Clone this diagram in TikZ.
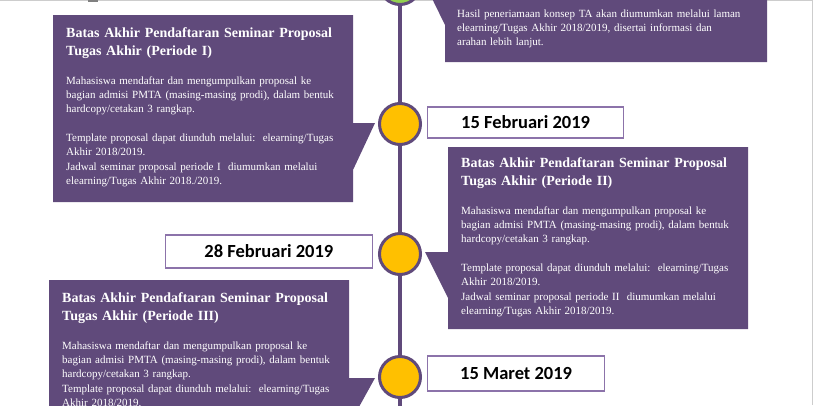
\documentclass[tikz,border=0pt]{standalone}
\usepackage{fontspec}
\setmainfont{Liberation Serif}
\newfontfamily\datefont{Carlito}
\usepackage{xcolor}
\usetikzlibrary{positioning}
\definecolor{tlpurple}{RGB}{96,74,123}
\definecolor{tlframe}{RGB}{140,115,170}
\definecolor{tlgold}{RGB}{255,192,0}
\definecolor{tlgreen}{RGB}{146,208,80}
\definecolor{pagegray}{RGB}{205,205,205}

\begin{document}
\begin{tikzpicture}[
  x=1pt, y=-1pt,
  bubble/.style={fill=tlpurple},
  dot/.style={circle, draw=tlpurple, line width=3pt, fill=tlgold, minimum size=41pt, inner sep=0pt},
  timeline/.style={draw=tlpurple, line width=4pt},
  datebox/.style={draw=tlframe, line width=1.2pt, fill=white, inner sep=0pt, font=\datefont\bfseries\fontsize{18.5}{22}\selectfont},
  heading/.style={text=white, text width=285pt, align=left, inner sep=0pt, font=\bfseries\fontsize{14}{18}\selectfont},
  info/.style={text=white, text width=285pt, align=left, inner sep=0pt, font=\fontsize{11}{14.3}\selectfont}
]
\useasboundingbox (0,0) rectangle (814,405);
\clip (0,0) rectangle (814,405);

% page edges of the screenshot
\draw[pagegray, line width=1pt] (0,0.5) -- (812.5,0.5) -- (812.5,405);
\fill[gray] (88,0) rectangle (98,1.5);

% callout boxes
\fill[bubble] (445,-60) -- (767,-60) -- (767,62) -- (445,62) -- (445,25) -- (422,-22) -- (445,-22) -- cycle;
\fill[bubble] (53,15) -- (353,15) -- (353,123) -- (375,123) -- (353,170) -- (353,202) -- (53,202) -- cycle;
\fill[bubble] (448,147) -- (748,147) -- (748,329) -- (448,329) -- (448,298) -- (425,252) -- (448,252) -- cycle;
\fill[bubble] (49,280) -- (349,280) -- (349,378) -- (375,378) -- (349,425) -- (349,440) -- (49,440) -- cycle;

% timeline dots
\node[dot, fill=tlgreen] (start) at (400,-16) {};
\node[dot] (feb15) at (400,124) {};
\node[dot] (feb28) at (400,254) {};
\node[dot] (mar15) at (400,377) {};
\coordinate (tlend) at (400,420);
\draw[timeline] (start) -- (feb15) -- (feb28) -- (mar15) -- (tlend);

% dates
\node[datebox, minimum width=196pt, minimum height=31pt, right=5pt of feb15, yshift=1.5pt] (date1) {15 Februari 2019};
\node[datebox, minimum width=207pt, minimum height=33pt, left=5pt of feb28, yshift=2.5pt] (date2) {28 Februari 2019};
\node[datebox, minimum width=177pt, minimum height=35pt, right=5pt of mar15, yshift=3.5pt] (date3) {15 Maret 2019};

% texts
\node[info, anchor=north west] (result) at (457,9.5) {Hasil peneriamaan konsep TA akan diumumkan melalui laman\\
elearning/Tugas Akhir 2018/2019, disertai informasi dan\\
arahan lebih lanjut.};

\node[heading, anchor=north west] (title1) at (66,27) {Batas Akhir Pendaftaran Seminar Proposal\\Tugas Akhir (Periode I)};
\node[info, below=18pt of title1] (body1) {Mahasiswa mendaftar dan mengumpulkan proposal ke\\
bagian admisi PMTA (masing-masing prodi), dalam bentuk\\
hardcopy/cetakan 3 rangkap.\\[14.3pt]
Template proposal dapat diunduh melalui:\ \ elearning/Tugas\\
Akhir 2018/2019.\\
Jadwal seminar proposal periode I\ \ diumumkan melalui\\
elearning/Tugas Akhir 2018./2019.};

\node[heading, anchor=north west] (title2) at (461,157) {Batas Akhir Pendaftaran Seminar Proposal\\Tugas Akhir (Periode II)};
\node[info, below=18pt of title2] (body2) {Mahasiswa mendaftar dan mengumpulkan proposal ke\\
bagian admisi PMTA (masing-masing prodi), dalam bentuk\\
hardcopy/cetakan 3 rangkap.\\[14.3pt]
Template proposal dapat diunduh melalui:\ \ elearning/Tugas\\
Akhir 2018/2019.\\
Jadwal seminar proposal periode II\ \ diumumkan melalui\\
elearning/Tugas Akhir 2018/2019.};

\node[heading, anchor=north west] (title3) at (62,292) {Batas Akhir Pendaftaran Seminar Proposal\\Tugas Akhir (Periode III)};
\node[info, below=18pt of title3] (body3) {Mahasiswa mendaftar dan mengumpulkan proposal ke\\
bagian admisi PMTA (masing-masing prodi), dalam bentuk\\
hardcopy/cetakan 3 rangkap.\\
Template proposal dapat diunduh melalui:\ \ elearning/Tugas\\
Akhir 2018/2019.};
\end{tikzpicture}
\end{document}
